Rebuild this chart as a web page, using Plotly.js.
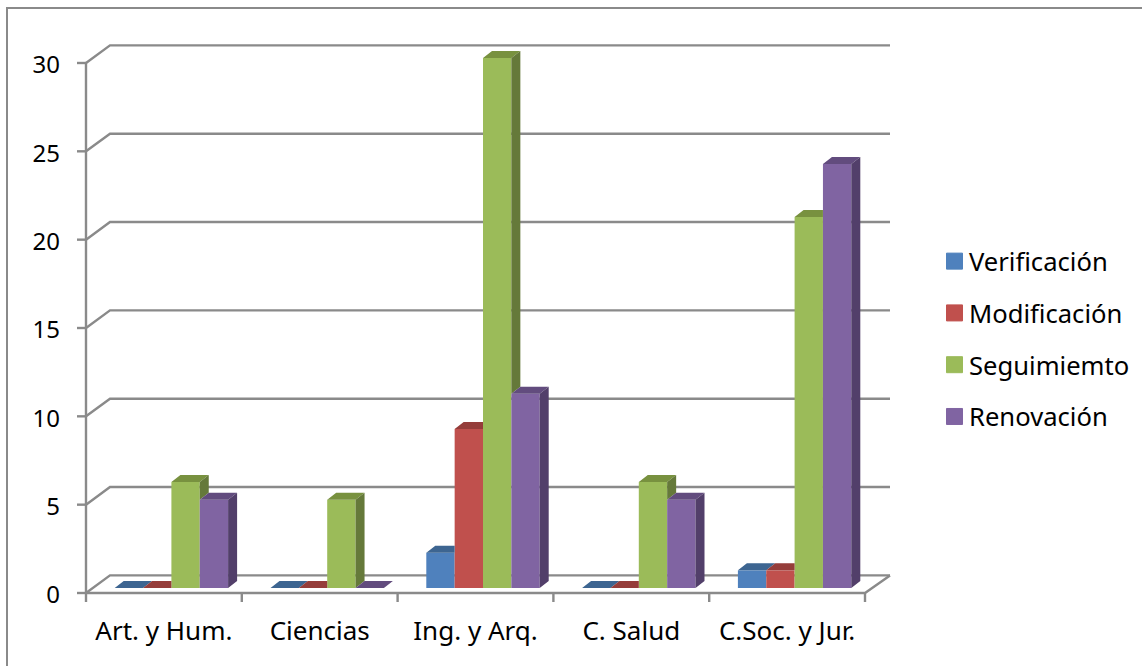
<!DOCTYPE html>
<html>
<head>
<meta charset="utf-8">
<script src="https://cdn.plot.ly/plotly-3.0.1.min.js"></script>
<style>
html,body{margin:0;padding:0;background:#fff;overflow:hidden}
#chart{width:1142px;height:666px}
.legend path.scatterpts{transform:translate(25.5px,0)}
</style>
</head>
<body>
<div id="chart"></div>
<script>
const categories = ["Art. y Hum.", "Ciencias", "Ing. y Arq.", "C. Salud", "C.Soc. y Jur."];
const verificacion = [0, 0, 2, 0, 1];
const modificacion = [0, 0, 9, 0, 1];
const seguimiemto = [6, 5, 30, 6, 21];
const renovacion = [5, 0, 11, 5, 24];
const seriesNames = ["Verificación", "Modificación", "Seguimiemto", "Renovación"];
const seriesValues = [verificacion, modificacion, seguimiemto, renovacion];
const frontColors = ["#4F81BD", "#C0504D", "#9BBB59", "#8064A2"];
const topColors = ["#3D6591", "#953D3A", "#78913F", "#624C7E"];
const sideColors = ["#355880", "#7F3432", "#65793A", "#523F6A"];
const yTicks = [0, 5, 10, 15, 20, 25, 30];

// Pixel frame of the plot and the pseudo-3D projection
const L = 70, T = 36, W = 830, H = 570;
const X0 = 86, Y0 = 593;                             // pixel position of the axes' origin
const catPx = 155.8, unitPx = 17.667;
const xMin = (L - X0) / catPx, xMax = (L + W - X0) / catPx;
const yMin = (Y0 - T - H) / unitPx, yMax = (Y0 - T) / unitPx;
const wallDx = 24 / catPx, wallDy = 17.6 / unitPx;   // floor/wall depth
const shiftX = 7.5 / catPx, baseY = 5 / unitPx;      // bars stand inside the floor
const depthX = 9 / catPx, depthY = 7 / unitPx;       // bar depth
const tickX = 9 / catPx, tickY = 9 / unitPx;
const groupFrac = 113.4 / 155.8, barW = groupFrac / 4;
const xEnd = (890 - X0) / catPx;
const gridColor = "#8A8A8A";
const font = "'Noto Sans', 'Open Sans', sans-serif";

const traces = [];

// Walls, floor, axes, tick marks and slanted gridlines, behind the bars
const gx = [], gy = [];
yTicks.forEach(t => {
  gx.push(0, wallDx, xEnd, null);
  gy.push(t, t + wallDy, t + wallDy, null);
  gx.push(-tickX, 0, null);
  gy.push(t, t, null);
});
categories.concat([""]).forEach((c, i) => {
  gx.push(i, i, null);
  gy.push(0, -tickY, null);
});
gx.push(0, 0, null, 0, categories.length, xEnd);
gy.push(0, 30, null, 0, 0, wallDy);
traces.push({type: "scatter", mode: "lines", x: gx, y: gy, zorder: -1,
  line: {color: gridColor, width: 2.4}, hoverinfo: "skip", showlegend: false});

// Front faces
const centers = categories.map((c, i) => i + 0.5 + shiftX);
seriesValues.forEach((vals, s) => {
  traces.push({type: "bar", name: seriesNames[s], x: centers, y: vals, base: baseY,
    marker: {color: frontColors[s], line: {width: 0}}, showlegend: false, zorder: 0});
});

// Top and side faces derived from the same values
const addPoly = (xs, ys, px, py) => { px.forEach(v => xs.push(v)); xs.push(null); py.forEach(v => ys.push(v)); ys.push(null); };
seriesValues.forEach((vals, s) => {
  const tx = [], ty = [], sx = [], sy = [];
  vals.forEach((v, c) => {
    const xl = c + 0.5 + shiftX - groupFrac / 2 + s * barW, xr = xl + barW;
    const top = v + baseY;
    const next = s < seriesValues.length - 1 ? seriesValues[s + 1][c] + baseY : baseY;
    if (next > top) {
      addPoly(tx, ty, [xl, xr, xr, xl + depthX, xl], [top, top, top + depthY, top + depthY, top]);
    } else {
      addPoly(tx, ty, [xl, xr, xr + depthX, xl + depthX, xl], [top, top, top + depthY, top + depthY, top]);
    }
    if (next < top) {
      addPoly(sx, sy, [xr, xr + depthX, xr + depthX, xr, xr], [top, top + depthY, next + depthY, next, top]);
    }
  });
  traces.push({type: "scatter", mode: "lines", x: tx, y: ty, fill: "toself", fillcolor: topColors[s],
    line: {width: 0, color: topColors[s]}, zorder: 1, hoverinfo: "skip", showlegend: false});
  traces.push({type: "scatter", mode: "lines", x: sx, y: sy, fill: "toself", fillcolor: sideColors[s],
    line: {width: 0, color: sideColors[s]}, zorder: 1, hoverinfo: "skip", showlegend: false});
});

// Legend keys
seriesNames.forEach((n, s) => {
  traces.push({type: "scatter", mode: "markers", name: n, x: [null], y: [null], legendgroup: n,
    marker: {symbol: "square", size: 16, color: frontColors[s], line: {width: 1, color: frontColors[s]}}});
});

const px = x => (x - L) / W, py = y => (T + H - y) / H;

const layout = {
  width: 1142, height: 666,
  margin: {l: L, t: T, r: 1142 - L - W, b: 666 - T - H, pad: 0, autoexpand: false},
  paper_bgcolor: "#fff", plot_bgcolor: "rgba(0,0,0,0)",
  barmode: "group", bargap: 1 - groupFrac, bargroupgap: 0,
  font: {family: font, size: 26, color: "#000"},
  showlegend: true,
  legend: {x: px(929), xanchor: "left", y: py(339), yanchor: "middle", traceorder: "grouped",
    tracegroupgap: 15.5, itemclick: false, bgcolor: "rgba(0,0,0,0)", font: {family: font, size: 25.6, color: "#000"}},
  xaxis: {range: [xMin, xMax], tickmode: "array", tickvals: categories.map((c, i) => i + 0.5), ticktext: categories,
    ticks: "", showgrid: false, zeroline: false, showline: false, ticklabelstandoff: 7, tickangle: 0, automargin: false,
    tickfont: {family: font, size: 26, color: "#000"}},
  yaxis: {range: [yMin, yMax], tickmode: "array", tickvals: yTicks, ticks: "", showgrid: false, zeroline: false, showline: false,
    ticklabelstandoff: 9, ticklabelshift: 2, automargin: false, tickfont: {family: font, size: 24, color: "#000"}},
  shapes: [{type: "path", xref: "paper", yref: "paper",
    path: `M${px(7)},${py(666)} L${px(7)},${py(8)} L${px(1142)},${py(8)}`,
    line: {color: gridColor, width: 2}}]
};

Plotly.newPlot("chart", traces, layout, {displayModeBar: false, responsive: false});
</script>
</body>
</html>
